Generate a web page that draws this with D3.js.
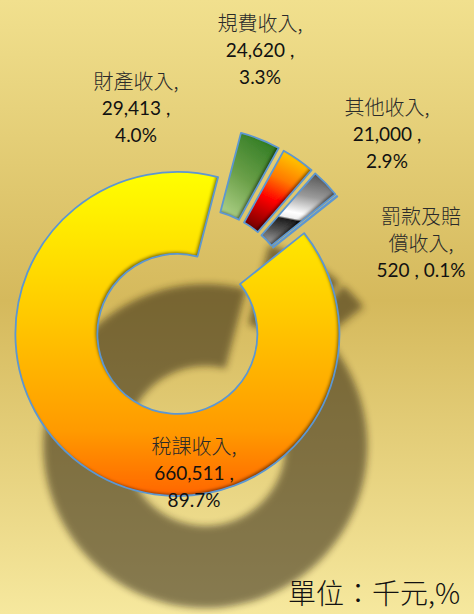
<!DOCTYPE html>
<html><head><meta charset="utf-8">
<script src="https://cdn.jsdelivr.net/npm/d3@7"></script>
<style>html,body{margin:0;padding:0;overflow:hidden;background:#fff}svg{display:block}</style>
</head><body>
<svg id="chart" width="474" height="614"></svg>
<script>
// ---------- data ----------
const categories = ["稅課收入", "財產收入", "規費收入", "其他收入", "罰款及賠償收入"];
const values = [660511, 29413, 24620, 21000, 520];
const percents = ["89.7%", "4.0%", "3.3%", "2.9%", "0.1%"];
const nameLines = [["稅課收入,"], ["財產收入,"], ["規費收入,"], ["其他收入,"], ["罰款及賠", "償收入,"]];
const unitText = "單位：千元,%";

// ---------- layout ----------
const W = 474, H = 614;
const cx = 191, cy = 313, rIn = 80, rOut = 162, explode = 25;
const startDeg = 51.5;
const shadowDx = 28, shadowDy = 112;
const labelAnchors = [[194, 447], [136, 82], [260, 24], [387, 108], [421, 217]];
const joinValuePct = [false, false, false, false, true];
const lineGap = 26.5;

const gradients = [
  {x1: 0, y1: 0, x2: 0, y2: 1, stops: [[0, "#ffff00"], [0.45, "#ffc800"], [0.8, "#ff9a00"], [1, "#ff6600"]]},
  {x1: 0.75, y1: 0, x2: 0.25, y2: 1, stops: [[0, "#2e7a22"], [0.55, "#6a9f48"], [1, "#a9cd82"]]},
  {x1: 0.7, y1: 0, x2: 0.3, y2: 1, stops: [[0, "#ffd200"], [0.35, "#ff7a00"], [0.62, "#ff0000"], [1, "#7a0000"]]},
  {x1: 0.6, y1: 0, x2: 0.4, y2: 1, stops: [[0, "#5a5a5a"], [0.3, "#9a9a9a"], [0.55, "#ffffff"], [0.63, "#f0f0f0"], [0.66, "#1e1e1e"], [0.82, "#505050"], [1, "#959595"]]},
  {x1: 0, y1: 0, x2: 0, y2: 1, stops: [[0, "#8db3e2"], [1, "#4f81bd"]]}
];

const svg = d3.select("#chart");
const defs = svg.append("defs");

// background gradient
const bg = defs.append("linearGradient").attr("id", "bgGrad").attr("x1", 0).attr("y1", 0).attr("x2", 0).attr("y2", 1);
[[0, "#f1e08e"], [0.49, "#d5b95c"], [1, "#f6e89e"]].forEach(s => bg.append("stop").attr("offset", s[0]).attr("stop-color", s[1]));

gradients.forEach((g, i) => {
  const lg = defs.append("linearGradient").attr("id", "sg" + i)
    .attr("x1", g.x1).attr("y1", g.y1).attr("x2", g.x2).attr("y2", g.y2);
  g.stops.forEach(s => lg.append("stop").attr("offset", s[0]).attr("stop-color", s[1]));
});

// shadow blur
defs.append("filter").attr("id", "blur").attr("x", "-20%").attr("y", "-20%").attr("width", "140%").attr("height", "140%")
  .append("feGaussianBlur").attr("stdDeviation", 3.5);

// inner shadow (bevel-like dark edges)
const inner = defs.append("filter").attr("id", "innerShadow").attr("x", "-20%").attr("y", "-20%").attr("width", "140%").attr("height", "140%");
inner.append("feComponentTransfer").attr("in", "SourceAlpha").attr("result", "inv")
  .append("feFuncA").attr("type", "table").attr("tableValues", "1 0");
inner.append("feOffset").attr("in", "inv").attr("dx", -2.5).attr("dy", -2.5).attr("result", "off");
inner.append("feGaussianBlur").attr("in", "off").attr("stdDeviation", 1.6).attr("result", "blr");
inner.append("feComposite").attr("in", "blr").attr("in2", "SourceAlpha").attr("operator", "in").attr("result", "shIn");
inner.append("feFlood").attr("flood-color", "#000").attr("flood-opacity", 0.8).attr("result", "fl");
inner.append("feComposite").attr("in", "fl").attr("in2", "shIn").attr("operator", "in").attr("result", "sh");
const mg = inner.append("feMerge");
mg.append("feMergeNode").attr("in", "SourceGraphic");
mg.append("feMergeNode").attr("in", "sh");

svg.append("rect").attr("width", W).attr("height", H).attr("fill", "url(#bgGrad)");

const a0 = startDeg * Math.PI / 180;
const pie = d3.pie().sort(null).value(d => d).startAngle(a0).endAngle(a0 + 2 * Math.PI);
const arcs = pie(values);
const arc = d3.arc().innerRadius(rIn).outerRadius(rOut);
const off = d => {
  const m = (d.startAngle + d.endAngle) / 2;
  return [Math.sin(m) * explode, -Math.cos(m) * explode];
};

// shadow
svg.append("g").attr("transform", `translate(${cx + shadowDx},${cy + shadowDy})`)
  .attr("filter", "url(#blur)").attr("opacity", 0.53)
  .selectAll("path").data(arcs).join("path")
  .attr("transform", d => `translate(${off(d)})`)
  .attr("d", arc).attr("fill", "rgb(40,30,13)");

// slices
const g = svg.append("g").attr("transform", `translate(${cx},${cy})`);
const sl = g.selectAll("g.slice").data(arcs).join("g").attr("class", "slice")
  .attr("transform", d => `translate(${off(d)})`);
sl.append("path").attr("d", arc).attr("fill", (d, i) => `url(#sg${i})`).attr("filter", "url(#innerShadow)");
sl.append("path").attr("d", arc).attr("fill", "none").attr("stroke", "#5d97d1").attr("stroke-width", 1.8).attr("stroke-linejoin", "round");

// labels
const fmt = d3.format(",");
const labels = svg.append("g");
arcs.forEach((d, i) => {
  const lines = nameLines[i].map(t => ({t, cjk: true}));
  if (joinValuePct[i]) lines.push({t: fmt(values[i]) + " , " + percents[i], cjk: false});
  else { lines.push({t: fmt(values[i]) + " ,", cjk: false}); lines.push({t: percents[i], cjk: false}); }
  const [lx, ly] = labelAnchors[i];
  const t = labels.append("text").attr("text-anchor", "middle");
  lines.forEach((l, k) => {
    t.append("tspan").attr("x", lx).attr("y", ly + k * lineGap).attr("dy", "0.35em")
      .attr("font-family", l.cjk ? "'Noto Sans CJK TC', sans-serif" : "Lato, 'Noto Sans CJK TC', sans-serif")
      .attr("font-size", l.cjk ? 20 : 19)
      .attr("font-weight", l.cjk ? 300 : 400)
      .attr("fill", l.cjk ? "#2a2a2a" : "#111")
      .text(l.t);
  });
});

svg.append("text").attr("x", 460).attr("y", 594).attr("dy", "0.35em").attr("text-anchor", "end")
  .attr("font-family", "'Noto Sans CJK TC', sans-serif").attr("font-size", 28).attr("font-weight", 300)
  .attr("fill", "#111").text(unitText);
</script>
</body></html>
